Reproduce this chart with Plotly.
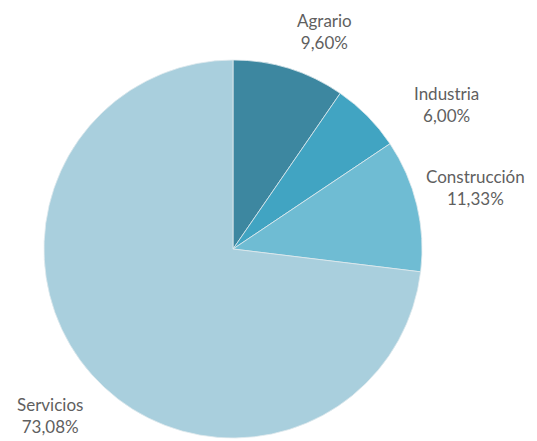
import plotly.graph_objects as go

labels = ["Agrario", "Industria", "Construcción", "Servicios"]
values = [9.60, 6.00, 11.33, 73.08]
value_text = ["9,60%", "6,00%", "11,33%", "73,08%"]
colors = ["#3d87a0", "#41a4c2", "#6fbcd3", "#a9cfdd"]

# annotation anchor positions (paper coords) for outside labels
label_pos = [(0.590, 0.946), (0.8175, 0.782), (0.8715, 0.592), (0.078, 0.077)]

fig = go.Figure(go.Pie(
    labels=labels,
    values=values,
    sort=False,
    direction="clockwise",
    rotation=0,
    textinfo="none",
    hoverinfo="label+percent",
    marker=dict(colors=colors, line=dict(color="#dfeaee", width=0.8)),
    domain=dict(x=[0.067, 0.771], y=[0.0249, 0.8821]),
    showlegend=False,
))

for lab, vt, (x, y) in zip(labels, value_text, label_pos):
    fig.add_annotation(
        x=x, y=y, xref="paper", yref="paper",
        text=f"{lab}<br>{vt}", showarrow=False,
        font=dict(family="Lato", size=17, color="#5f5f5f"),
        align="center", xanchor="center", yanchor="middle",
    )

fig.update_layout(
    width=537, height=441,
    margin=dict(l=0, r=0, t=0, b=0),
    paper_bgcolor="white",
    plot_bgcolor="white",
)

fig.write_html("out.html")
